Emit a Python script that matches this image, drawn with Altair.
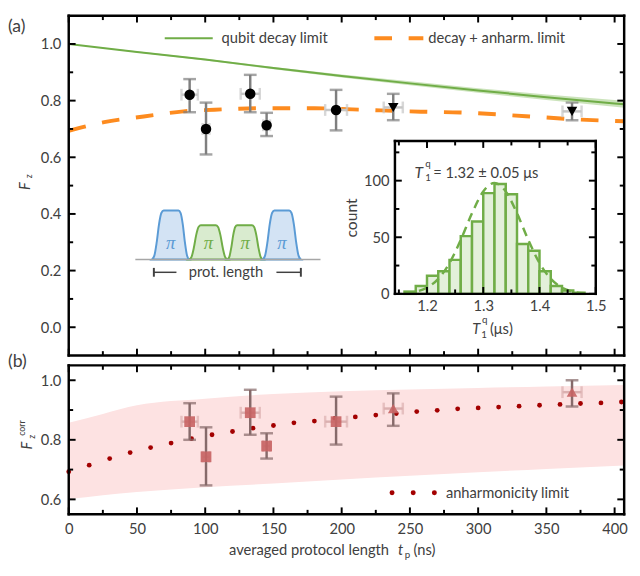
import altair as alt
import pandas as pd

# ---------------- values ----------------
t_ns = [88.6, 100.6, 133.0, 145.0, 195.9, 237.8, 368.8]
t_err = [6.0, 2.5, 7.0, 2.5, 8.0, 7.0, 7.0]
protocol = ["A", "A", "A", "A", "A", "B", "B"]

fz = [0.821, 0.700, 0.824, 0.713, 0.767, 0.776, 0.762]
fz_lo = [0.759, 0.610, 0.759, 0.675, 0.695, 0.731, 0.731]
fz_hi = [0.876, 0.793, 0.891, 0.757, 0.838, 0.824, 0.793]

fc = [0.861, 0.743, 0.891, 0.779, 0.861, 0.905, 0.960]
fc_lo = [0.800, 0.647, 0.817, 0.737, 0.784, 0.847, 0.912]
fc_hi = [0.923, 0.842, 0.968, 0.822, 0.945, 0.956, 1.000]

decay_t = [0, 50, 100, 150, 200, 250, 300, 350, 400, 407]
decay_f = [1.000, 0.972, 0.945, 0.915, 0.887, 0.861, 0.836, 0.812, 0.790, 0.787]
decay_lo = [1.000, 0.970, 0.942, 0.911, 0.882, 0.854, 0.828, 0.802, 0.778, 0.775]
decay_hi = [1.000, 0.974, 0.948, 0.919, 0.892, 0.868, 0.844, 0.822, 0.802, 0.799]

anh_t = [0, 26, 55, 84, 112, 141, 180, 208, 258, 287, 335, 371, 407]
anh_f = [0.693, 0.724, 0.744, 0.762, 0.769, 0.773, 0.773, 0.769, 0.761, 0.758, 0.745, 0.734, 0.727]

anhc_t = [0, 15, 30, 45, 60, 75, 90, 105, 120, 135, 150, 165, 180, 195, 210,
          225, 240, 255, 270, 285, 300, 315, 330, 345, 360, 375, 390, 405]
anhc_f = [0.693, 0.715, 0.737, 0.757, 0.774, 0.789, 0.804, 0.817, 0.828, 0.839,
          0.848, 0.857, 0.863, 0.872, 0.877, 0.883, 0.888, 0.895, 0.899, 0.904,
          0.907, 0.910, 0.913, 0.916, 0.919, 0.922, 0.924, 0.927]

band_t = [0, 25, 50, 100, 150, 200, 250, 300, 350, 407]
band_lo = [0.601, 0.614, 0.625, 0.641, 0.653, 0.667, 0.679, 0.691, 0.702, 0.714]
band_hi = [0.857, 0.887, 0.916, 0.938, 0.954, 0.963, 0.969, 0.974, 0.979, 0.984]

hist_left = [1.16, 1.18, 1.20, 1.22, 1.24, 1.26, 1.28, 1.30, 1.32, 1.34, 1.36, 1.38, 1.40, 1.42, 1.44, 1.46]
hist_right = [1.18, 1.20, 1.22, 1.24, 1.26, 1.28, 1.30, 1.32, 1.34, 1.36, 1.38, 1.40, 1.42, 1.44, 1.46, 1.48]
hist_count = [2, 7, 16, 20, 30, 51, 64, 89, 97, 88, 44, 38, 20, 7, 3, 1]

fit_x = [1.16, 1.18, 1.20, 1.22, 1.24, 1.26, 1.28, 1.30, 1.32, 1.34, 1.36, 1.38, 1.40, 1.42, 1.44, 1.46, 1.48]
fit_y = [0.6, 1.9, 5.5, 13.3, 27.2, 47.7, 71.2, 90.5, 98.0, 90.5, 71.2, 47.7, 27.2, 13.3, 5.5, 1.9, 0.6]

# schematic pulse sequence (arbitrary units)
pulse_kind = ["outer", "inner", "inner", "outer"]
pulse_start = [0.90, 2.91, 4.97, 6.88]
pulse_rise_end = [1.53, 3.54, 5.50, 7.51]
pulse_fall_start = [2.33, 4.34, 6.30, 8.31]
pulse_end = [2.91, 4.97, 6.88, 8.94]
pulse_amp = [1.0, 0.7, 0.7, 1.0]
ramp_frac = [0.0, 0.2, 0.4, 0.6, 0.8, 1.0]
ramp_level = [0.0, 0.08, 0.35, 0.72, 0.95, 1.0]
bracket_ends = [1.0, 8.94]
bracket_gaps = [2.22, 7.62]

# ---------------- layout & styling ----------------
W, HA, GAP, HB = 567, 347, 10, 152
H = HA + GAP + HB            # one layered chart holds both panels
OB = HA + GAP                # top of panel (b)
TXT = "#404040"
FONT = "Lato"
GREEN = "#70ad47"
ORANGE = "#fd8b1f"
DARKRED = "#a30000"

X_MAIN = dict(domain=[0, 407], nice=False, zero=False)
Y_A = dict(domain=[-0.1, 1.1], range=[HA, 0], nice=False, zero=False)
Y_B = dict(domain=[0.55, 1.05], range=[H, OB], nice=False, zero=False)
X_IN = dict(domain=[1.143, 1.5], range=[333, 538], nice=False, zero=False)
Y_IN = dict(domain=[0, 135], range=[284, 128], nice=False, zero=False)
X_IL = dict(domain=[0, 10], range=[68, 257], nice=False, zero=False)
Y_IL = dict(domain=[0, 1], range=[249, 199], nice=False, zero=False)

ONE = pd.DataFrame({"k": [0]})


def X(field, sc):
    return alt.X(field, type="quantitative", scale=alt.Scale(**sc), axis=None)


def Y(field, sc):
    return alt.Y(field, type="quantitative", scale=alt.Scale(**sc), axis=None)


def XD(v, sc):
    return alt.X(datum=v, type="quantitative", scale=alt.Scale(**sc), axis=None)


def YD(v, sc):
    return alt.Y(datum=v, type="quantitative", scale=alt.Scale(**sc), axis=None)


def label(txt, x, y, size=15, align="left", baseline="middle", color=TXT,
          style="normal", angle=0, font=FONT):
    return alt.Chart(ONE).mark_text(
        text=txt, align=align, baseline=baseline, fontSize=size, color=color,
        fontStyle=style, angle=angle, font=font
    ).encode(x=alt.value(x), y=alt.value(y))


def frame(xsc, ysc, xmaj, xmin, ymaj, ymin, xlabels, ylabels, box,
          xfmt, yfmt, ytitle=None, lpad_x=9, lpad_y=8):
    x0, x1, y0, y1 = box
    xa, xb = xsc["domain"]
    ya, yb = ysc["domain"]
    ux = (xb - xa) / (x1 - x0)   # data units per pixel
    uy = (yb - ya) / (y1 - y0)
    df = pd.DataFrame({"x": [(xa + xb) / 2], "y": [(ya + yb) / 2]})
    xaxis = None
    if xlabels:
        xaxis = alt.Axis(orient="bottom", offset=y1 - H, values=xlabels, ticks=False,
                         domain=False, title=None, format=xfmt, labelPadding=lpad_x,
                         labelFlush=False, labelOverlap=False, grid=False)
    layers = [alt.Chart(df).mark_point(opacity=0, size=1).encode(
        x=alt.X("x:Q", scale=alt.Scale(**xsc), axis=xaxis),
        y=alt.Y("y:Q", scale=alt.Scale(**ysc), axis=alt.Axis(
            orient="left", offset=-x0, values=ylabels, ticks=False, domain=False,
            title=ytitle, format=yfmt, labelPadding=lpad_y, labelFlush=False,
            labelOverlap=False, grid=False, titlePadding=4)),
    )]
    # inward ticks on all four sides (tick length converted to data units)
    rows = []
    for xv, yv, ts in [(xmaj, ymaj, 7), (xmin, ymin, 4.5)]:
        for v in xv:
            rows.append(dict(x=v, x2=v, y=ya, y2=ya + ts * uy))
            rows.append(dict(x=v, x2=v, y=yb, y2=yb - ts * uy))
        for v in yv:
            rows.append(dict(x=xa, x2=xa + ts * ux, y=v, y2=v))
            rows.append(dict(x=xb, x2=xb - ts * ux, y=v, y2=v))
    layers.append(alt.Chart(pd.DataFrame(rows)).mark_rule(color="black", strokeWidth=2).encode(
        x=X("x", xsc), x2="x2", y=Y("y", ysc), y2="y2"))
    # frame lines
    line = alt.Chart(ONE).mark_rule(color="black", strokeWidth=2.5, strokeCap="square")
    layers += [
        line.encode(x=XD(xa, xsc), x2=alt.datum(xb), y=YD(ya, ysc)),
        line.encode(x=XD(xa, xsc), x2=alt.datum(xb), y=YD(yb, ysc)),
        line.encode(x=XD(xa, xsc), y=YD(ya, ysc), y2=alt.datum(yb)),
        line.encode(x=XD(xb, xsc), y=YD(ya, ysc), y2=alt.datum(yb)),
    ]
    return layers


X_MAJ = list(range(0, 401, 50))
X_MIN = list(range(25, 401, 50))


def points_layers(tt, f, lo, hi, ysc, xerr_col, yerr_col, pt_col, shapes, size, opacity):
    df = pd.DataFrame(dict(t=tt, f=f, lo=lo, hi=hi, proto=protocol,
                           tlo=[a - b for a, b in zip(tt, t_err)],
                           thi=[a + b for a, b in zip(tt, t_err)]))
    b = alt.Chart(df)
    xr = b.mark_rule(color=xerr_col, strokeWidth=2.5).encode(
        x=X("tlo", X_MAIN), x2="thi", y=Y("f", ysc))
    xc1 = b.mark_tick(orient="vertical", color=xerr_col, size=12, thickness=2.5).encode(
        x=X("tlo", X_MAIN), y=Y("f", ysc))
    xc2 = b.mark_tick(orient="vertical", color=xerr_col, size=12, thickness=2.5).encode(
        x=X("thi", X_MAIN), y=Y("f", ysc))
    yr = b.mark_rule(color=yerr_col, strokeWidth=2.5).encode(
        x=X("t", X_MAIN), y=Y("lo", ysc), y2="hi")
    yc1 = b.mark_tick(orient="horizontal", color=yerr_col, size=13, thickness=2.5).encode(
        x=X("t", X_MAIN), y=Y("lo", ysc))
    yc2 = b.mark_tick(orient="horizontal", color=yerr_col, size=13, thickness=2.5).encode(
        x=X("t", X_MAIN), y=Y("hi", ysc))
    pts = b.mark_point(filled=True, color=pt_col, size=size, opacity=opacity).encode(
        x=X("t", X_MAIN), y=Y("f", ysc),
        shape=alt.Shape("proto:N", scale=alt.Scale(domain=["A", "B"], range=shapes), legend=None))
    return [xr, xc1, xc2, yr, yc1, yc2, pts]


# ---------------- panel (a) ----------------
df_decay = pd.DataFrame(dict(t=decay_t, f=decay_f, lo=decay_lo, hi=decay_hi))
df_anh = pd.DataFrame(dict(t=anh_t, f=anh_f))

green_band = alt.Chart(df_decay).mark_area(color="#a9d18e", opacity=0.6).encode(
    x=X("t", X_MAIN), y=Y("lo", Y_A), y2="hi")
green_line = alt.Chart(df_decay).mark_line(color=GREEN, strokeWidth=2).encode(
    x=X("t", X_MAIN), y=Y("f", Y_A))
orange_line = alt.Chart(df_anh).mark_line(
    color=ORANGE, strokeWidth=4, strokeDash=[18, 17], interpolate="monotone").encode(
    x=X("t", X_MAIN), y=Y("f", Y_A))

# inset histogram
df_hist = pd.DataFrame(dict(a=hist_left, b=hist_right, c=hist_count))
df_fit = pd.DataFrame(dict(x=fit_x, y=fit_y))
hist = alt.Chart(df_hist).mark_rect(
    fill="#e3f0da", stroke=GREEN, strokeWidth=2.5).encode(
    x=X("a", X_IN), x2="b", y=Y("c", Y_IN), y2=alt.datum(0))
fit = alt.Chart(df_fit).mark_line(
    color=GREEN, strokeWidth=2.5, strokeDash=[9, 6], interpolate="monotone").encode(
    x=X("x", X_IN), y=Y("y", Y_IN))
inset_frame = frame(
    X_IN, Y_IN, [1.2, 1.3, 1.4, 1.5], [1.15, 1.25, 1.35, 1.45], [0, 50, 100], [25, 75, 125],
    [1.2, 1.3, 1.4, 1.5], [0, 50, 100], (333, 538, 128, 284), ".1f", "d",
    ytitle="count", lpad_x=5, lpad_y=6)

# pulse schematic
rows = []
for k in range(4):
    s, r, f, e, a = pulse_start[k], pulse_rise_end[k], pulse_fall_start[k], pulse_end[k], pulse_amp[k]
    for fr, lv in zip(ramp_frac, ramp_level):
        rows.append(dict(p=k, kind=pulse_kind[k], x=s + fr * (r - s), y=a * lv))
    for fr, lv in zip(ramp_frac, ramp_level[::-1]):
        rows.append(dict(p=k, kind=pulse_kind[k], x=f + fr * (e - f), y=a * lv))
df_pulse = pd.DataFrame(rows)
pulses = alt.Chart(df_pulse).mark_area(strokeWidth=2, interpolate="monotone").encode(
    x=X("x", X_IL), y=Y("y", Y_IL), y2=alt.datum(0), detail="p:N",
    fill=alt.Fill("kind:N", scale=alt.Scale(domain=["outer", "inner"], range=["#d3e3f4", "#d9ebcf"]), legend=None),
    stroke=alt.Stroke("kind:N", scale=alt.Scale(domain=["outer", "inner"], range=["#5b9bd5", GREEN]), legend=None))
df_pi = pd.DataFrame(dict(x=[(s + e) / 2 for s, e in zip(pulse_start, pulse_end)], kind=pulse_kind))
pis = alt.Chart(df_pi).mark_text(text="π", fontSize=19, font="Liberation Serif", fontStyle="italic").encode(
    x=X("x", X_IL), y=YD(0.33, Y_IL),
    color=alt.Color("kind:N", scale=alt.Scale(domain=["outer", "inner"], range=["#5b9bd5", GREEN]), legend=None))
baseline = alt.Chart(ONE).mark_rule(color="#a6a6a6", strokeWidth=1.5).encode(
    x=XD(0, X_IL), x2=alt.datum(10), y=YD(0, Y_IL))
df_br = pd.DataFrame(dict(a=bracket_ends, b=bracket_gaps))
br_h = alt.Chart(df_br).mark_rule(color=TXT, strokeWidth=1.5).encode(
    x=X("a", X_IL), x2="b", y=YD(-0.26, Y_IL))
br_v = alt.Chart(df_br).mark_rule(color=TXT, strokeWidth=2).encode(
    x=X("a", X_IL), y=YD(-0.35, Y_IL), y2=alt.datum(-0.17))
br_t = alt.Chart(ONE).mark_text(text="prot. length", fontSize=15, font=FONT, color=TXT).encode(
    x=XD(4.9, X_IL), y=YD(-0.26, Y_IL))

legend_a = [
    alt.Chart(ONE).mark_rule(color=GREEN, strokeWidth=2).encode(
        x=alt.value(98), x2=alt.value(147), y=alt.value(23)),
    label("qubit decay limit", 156, 23),
    alt.Chart(ONE).mark_rule(color=ORANGE, strokeWidth=4, strokeDash=[18, 17]).encode(
        x=alt.value(312), x2=alt.value(362), y=alt.value(23)),
    label("decay + anharm. limit", 367, 23),
]
texts_a = [
    label("(a)", -62, 3, size=18, baseline="top"),
    label("F", -45, 174, size=15, align="center", style="italic", angle=270),
    label("z", -40, 164, size=9, align="center", angle=270),
    label("T", 353, 161, size=16, style="italic"),
    label("q", 364, 151, size=10),
    label("1", 364, 166, size=10),
    label("= 1.32 ± 0.05 μs", 372, 161, size=15),
    label("T", 412, 320, size=15, style="italic"),
    label("q", 422, 311, size=10),
    label("1", 421, 326, size=10),
    label("(μs)", 430, 320, size=15),
]

frame_a = frame(X_MAIN, Y_A, X_MAJ, X_MIN, [0.0, 0.2, 0.4, 0.6, 0.8, 1.0], [0.1, 0.3, 0.5, 0.7, 0.9],
                None, [0.0, 0.2, 0.4, 0.6, 0.8, 1.0], (0, W, 0, HA), "d", ".1f")

pts_a = points_layers(t_ns, fz, fz_lo, fz_hi, Y_A, "#c6c6c6", "#7f7f7f", "black",
                      ["circle", "triangle-down"], 115, 1)

# ---------------- panel (b) ----------------
df_band = pd.DataFrame(dict(t=band_t, lo=band_lo, hi=band_hi))
df_dots = pd.DataFrame(dict(t=anhc_t, f=anhc_f))
pink_band = alt.Chart(df_band).mark_area(color="#fde2e2", interpolate="monotone").encode(
    x=X("t", X_MAIN), y=Y("lo", Y_B), y2="hi")
dots = alt.Chart(df_dots).mark_circle(color=DARKRED, size=24, opacity=1).encode(
    x=X("t", X_MAIN), y=Y("f", Y_B))
pts_b = points_layers(t_ns, fc, fc_lo, fc_hi, Y_B, "#dbb0b0", "#866a6a", "#c86464",
                      ["square", "triangle-up"], 120, 0.9)
legend_b = [
    alt.Chart(ONE).mark_rule(color=DARKRED, strokeWidth=5, strokeDash=[0.1, 21.5], strokeCap="round").encode(
        x=alt.value(330), x2=alt.value(374), y=alt.value(OB + 130)),
    label("anharmonicity limit", 385, OB + 130),
]
texts_b = [
    label("(b)", -62, OB - 12, size=18, baseline="top"),
    label("F", -42, OB + 82, size=15, align="center", style="italic", angle=270),
    label("z", -37, OB + 73, size=9, align="center", angle=270),
    label("corr", -48, OB + 64, size=9, align="center", angle=270),
    label("averaged protocol length", 327, H + 37, size=15, align="right"),
    label("t", 336, H + 37, size=15, style="italic"),
    label("p", 343, H + 42, size=10),
    label("(ns)", 352, H + 37, size=15),
]
frame_b = frame(X_MAIN, Y_B, X_MAJ, X_MIN, [0.6, 0.8, 1.0], [0.7, 0.9],
                list(range(0, 401, 50)), [0.6, 0.8, 1.0], (0, W, OB, H), "d", ".1f",
                lpad_x=8)

chart = alt.layer(
    green_band, green_line, orange_line, *pts_a,
    hist, fit, *inset_frame,
    pulses, baseline, pis, br_h, br_v, br_t,
    *legend_a, *texts_a, *frame_a,
    pink_band, dots, *pts_b, *legend_b, *texts_b, *frame_b,
).resolve_scale(
    x="independent", y="independent", shape="independent",
    color="independent", fill="independent", stroke="independent"
).properties(
    width=W, height=H,
    padding={"left": 0, "top": 0, "right": 0, "bottom": 0},
).configure_view(stroke=None).configure_axis(
    grid=False, labelFont=FONT, labelFontSize=15, labelColor=TXT,
    titleFont=FONT, titleFontSize=16, titleColor=TXT, titleFontWeight="normal",
)

chart.save("out.html", embed_options={"renderer": "svg", "actions": False})
